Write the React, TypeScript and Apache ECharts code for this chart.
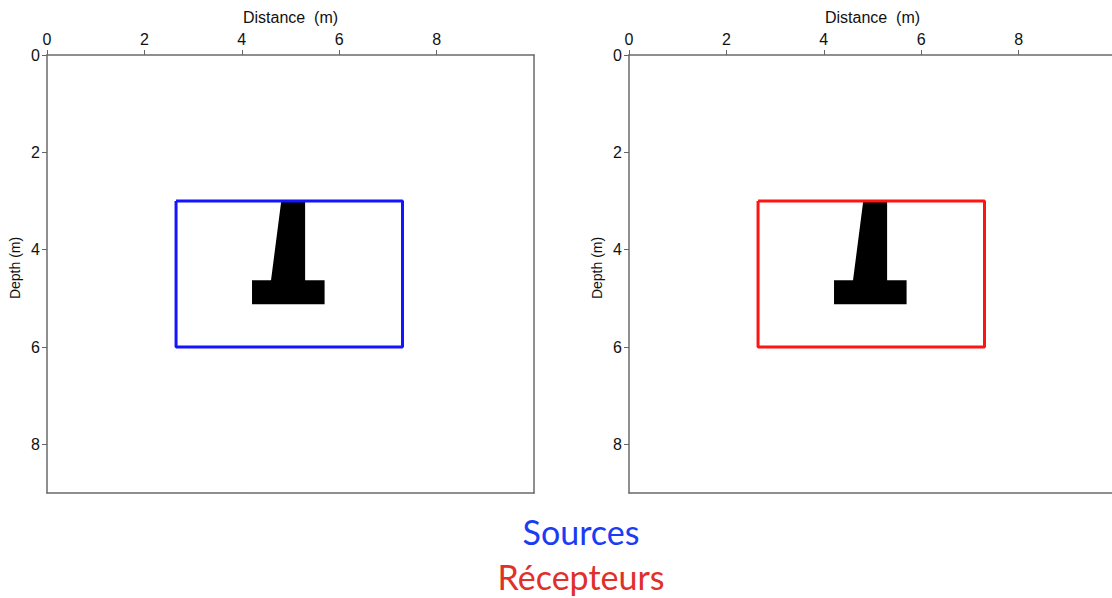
import React, { useEffect, useRef } from "react";
import * as echarts from "echarts";

// Acquisition rectangle (x in m, depth in m)
const rectX = [2.65, 7.3, 7.3, 2.65, 2.65];
const rectY = [3.0, 3.0, 6.0, 6.0, 3.0];
// Buried object outline (inverted-T footing)
const objX = [4.81, 5.3, 5.3, 5.7, 5.7, 4.21, 4.21, 4.6];
const objY = [3.0, 3.0, 4.63, 4.63, 5.12, 5.12, 4.63, 4.63];
const xTicks = [0, 2, 4, 6, 8];
const yTicks = [0, 2, 4, 6, 8];
const panels = [
  { name: "Sources", color: "#1414ff", textColor: "#1a3cf5" },
  { name: "Récepteurs", color: "#ff1414", textColor: "#e0302a" },
];

const FONT = "Liberation Sans";

export default function App() {
  const ref = useRef<HTMLDivElement>(null);
  useEffect(() => {
    if (!ref.current) return;
    const chart = echarts.init(ref.current, null, { renderer: "svg" });
    const lefts = [47, 629];
    const lineStyle = { color: "#6a6a6a", width: 1.5 };
    const grid = lefts.map((l) => ({
      left: l,
      top: 55,
      width: 487,
      height: 438,
      show: false,
      containLabel: false,
      outerBoundsMode: "none",
    }));
    const xAxis: any[] = [];
    const yAxis: any[] = [];
    lefts.forEach((_, i) => {
      xAxis.push({
        type: "value",
        gridIndex: i,
        position: "top",
        min: 0,
        max: 10,
        interval: 2,
        name: "Distance  (m)",
        nameLocation: "middle",
        nameGap: 30,
        nameTextStyle: { fontFamily: FONT, fontSize: 16, color: "#111" },
        axisLine: { show: true, lineStyle },
        axisTick: { show: true, length: 5, lineStyle: { color: "#666" } },
        axisLabel: {
          fontFamily: FONT,
          fontSize: 16,
          color: "#111",
          margin: 8,
          showMaxLabel: false,
          formatter: (v: number) => (xTicks.includes(v) ? String(v) : ""),
        },
        splitLine: { show: false },
      });
      xAxis.push({
        type: "value",
        gridIndex: i,
        position: "bottom",
        min: 0,
        max: 10,
        axisLine: { show: true, onZero: false, lineStyle },
        axisTick: { show: false },
        axisLabel: { show: false },
        splitLine: { show: false },
      });
      yAxis.push({
        type: "value",
        gridIndex: i,
        inverse: true,
        min: 0,
        max: 9,
        interval: 2,
        name: "Depth (m)",
        nameLocation: "middle",
        nameGap: 25,
        nameRotate: 90,
        nameTextStyle: { fontFamily: FONT, fontSize: 14, color: "#111", padding: [0, 0, 0, 12] },
        axisLine: { show: true, lineStyle },
        axisTick: { show: true, length: 5, lineStyle: { color: "#666" } },
        axisLabel: {
          fontFamily: FONT,
          fontSize: 16,
          color: "#111",
          margin: 7,
          showMaxLabel: false,
          formatter: (v: number) => (yTicks.includes(v) ? String(v) : ""),
        },
        splitLine: { show: false },
      });
      yAxis.push({
        type: "value",
        gridIndex: i,
        position: "right",
        inverse: true,
        min: 0,
        max: 9,
        axisLine: { show: true, onZero: false, lineStyle },
        axisTick: { show: false },
        axisLabel: { show: false },
        splitLine: { show: false },
      });
    });
    const series: any[] = [];
    panels.forEach((p, i) => {
      series.push({
        type: "custom",
        xAxisIndex: i * 2,
        yAxisIndex: i * 2,
        data: [0],
        renderItem: (_params: any, api: any) => ({
          type: "polygon",
          shape: { points: objX.map((x, k) => api.coord([x, objY[k]])) },
          style: { fill: "#000" },
        }),
        silent: true,
      });
      series.push({
        type: "line",
        xAxisIndex: i * 2,
        yAxisIndex: i * 2,
        data: rectX.map((x, k) => [x, rectY[k]]),
        showSymbol: false,
        lineStyle: { color: p.color, width: 3 },
        silent: true,
      });
    });
    chart.setOption({
      animation: false,
      backgroundColor: "#fff",
      grid,
      xAxis,
      yAxis,
      series,
      graphic: [
        {
          type: "text",
          x: 581,
          y: 531,
          style: {
            text: panels[0].name,
            fill: panels[0].textColor,
            font: `34px Lato`,
            textAlign: "center",
            textVerticalAlign: "middle",
          },
        },
        {
          type: "text",
          x: 581,
          y: 576,
          style: {
            text: panels[1].name,
            fill: panels[1].textColor,
            font: `34px Lato`,
            textAlign: "center",
            textVerticalAlign: "middle",
          },
        },
      ],
    });
    return () => chart.dispose();
  }, []);
  return (
    <div
      ref={ref}
      style={{ position: "absolute", left: 0, top: 0, width: 1112, height: 598, overflow: "hidden" }}
    />
  );
}
